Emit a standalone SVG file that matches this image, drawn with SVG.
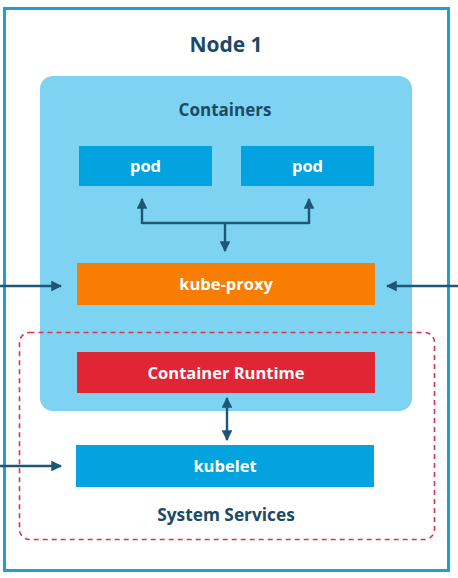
<svg xmlns="http://www.w3.org/2000/svg" width="458" height="578" viewBox="0 0 458 578">
<defs>
<style>
.t{font-family:"Open Sans","Liberation Sans",sans-serif;font-weight:700;text-anchor:middle}
.w{fill:#ffffff;font-size:16.5px}
.n{fill:#1b4a66}
.c{stroke:#1d5777;stroke-width:2.4;fill:none}
</style>
<marker id="ah" viewBox="0 0 10 10" refX="9" refY="5" markerWidth="4.5" markerHeight="4.5" orient="auto-start-reverse" markerUnits="strokeWidth">
<path d="M0,0 L10,5 L0,10 z" fill="#1d5777"/>
</marker>
</defs>
<rect width="458" height="578" fill="#ffffff"/>
<g id="node1">
<rect x="4.5" y="8.5" width="444" height="562" fill="none" stroke="#1a9fd6" stroke-width="3"/>
<text class="t n" x="226" y="52" font-size="21">Node 1</text>
</g>
<g id="containers">
<rect x="40" y="76" width="372" height="335" rx="13" fill="#7dd3f1"/>
<text class="t n" x="225" y="116" font-size="17">Containers</text>
</g>
<g id="system-services">
<rect x="19.5" y="332.5" width="415" height="207" rx="10" fill="none" stroke="#d8344a" stroke-width="1.6" stroke-dasharray="5,4"/>
<text class="t n" x="226" y="521" font-size="17.3">System Services</text>
</g>
<g id="pod1">
<rect x="79" y="146" width="133" height="40" fill="#03a3e0"/>
<text class="t w" x="145.5" y="171.5">pod</text>
</g>
<g id="pod2">
<rect x="241" y="146" width="133" height="40" fill="#03a3e0"/>
<text class="t w" x="307.5" y="171.5">pod</text>
</g>
<g id="kube-proxy">
<rect x="77" y="263" width="298" height="42" fill="#f77e03"/>
<text class="t w" x="226" y="290">kube-proxy</text>
</g>
<g id="container-runtime">
<rect x="77" y="352" width="298" height="41" fill="#e02535"/>
<text class="t w" x="226" y="378.5">Container Runtime</text>
</g>
<g id="kubelet">
<rect x="76" y="445" width="298" height="42" fill="#03a3e0"/>
<text class="t w" x="225" y="471.5">kubelet</text>
</g>
<g id="connectors">
<polyline class="c" points="142,223 309,223" />
<line class="c" x1="142" y1="224" x2="142" y2="199" marker-end="url(#ah)"/>
<line class="c" x1="309" y1="224" x2="309" y2="199" marker-end="url(#ah)"/>
<line class="c" x1="225" y1="223" x2="225" y2="251" marker-end="url(#ah)"/>
<line class="c" x1="0" y1="286" x2="61" y2="286" marker-end="url(#ah)"/>
<line class="c" x1="458" y1="286" x2="387" y2="286" marker-end="url(#ah)"/>
<line class="c" x1="227" y1="398" x2="227" y2="440" marker-start="url(#ah)" marker-end="url(#ah)"/>
<line class="c" x1="0" y1="466" x2="61" y2="466" marker-end="url(#ah)"/>
</g>
</svg>
